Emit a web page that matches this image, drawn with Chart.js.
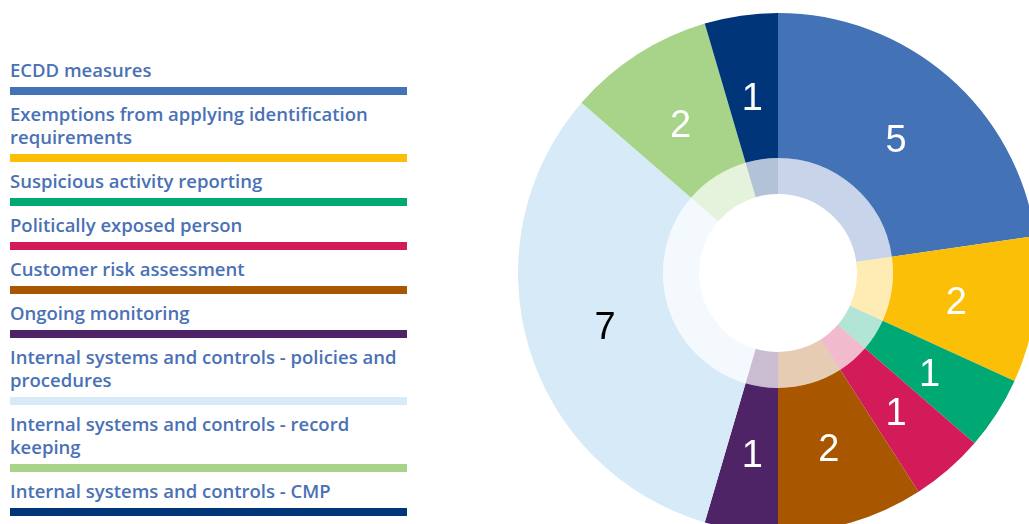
<!DOCTYPE html>
<html>
<head>
<meta charset="utf-8">
<script src="https://cdn.jsdelivr.net/npm/chart.js@4.4.1/dist/chart.umd.min.js"></script>
<style>
  html, body { margin: 0; padding: 0; background: #fff; }
  body { width: 1029px; height: 524px; overflow: hidden; position: relative; font-family: "Open Sans", sans-serif; }
  #legend { position: absolute; left: 10px; top: 57.5px; width: 397px; }
  .item { margin-bottom: 7px; }
  .item .txt { color: #4a71b6; font-size: 18.5px; font-weight: 600; line-height: 23px; white-space: nowrap; }
  .item .bar { margin-top: 6px; height: 8px; }
  #wrap { position: absolute; left: 518px; top: 13px; width: 520px; height: 520px; }
</style>
</head>
<body>
<div id="legend"></div>
<div id="wrap"><canvas id="pie"></canvas></div>
<script>
const categories = [
  'ECDD measures',
  ['Exemptions from applying identification', 'requirements'],
  'Suspicious activity reporting',
  'Politically exposed person',
  'Customer risk assessment',
  'Ongoing monitoring',
  ['Internal systems and controls - policies and', 'procedures'],
  ['Internal systems and controls - record', 'keeping'],
  'Internal systems and controls - CMP'
];
const counts = [5, 2, 1, 1, 2, 1, 7, 2, 1];
const sliceColors = ['#4472b6', '#fbbf07', '#00a874', '#d41b5a', '#a85600', '#4e2466', '#d6eaf8', '#a8d48a', '#00357a'];
const valueColors = ['#fff', '#fff', '#fff', '#fff', '#fff', '#fff', '#000', '#fff', '#fff'];

function el(id) { return document.getElementById(id); }
function fade(hex, a) {
  const n = parseInt(hex.slice(1), 16);
  return 'rgba(' + (n >> 16) + ',' + ((n >> 8) & 255) + ',' + (n & 255) + ',' + a + ')';
}

el('legend').innerHTML = categories.map((c, i) => {
  const t = Array.isArray(c) ? c.join('<br>') : c;
  return `<div class="item"><div class="txt">${t}</div><div class="bar" style="background:${sliceColors[i]}"></div></div>`;
}).join('');

// numbers on the outer ring
const valueLabels = {
  id: 'valueLabels',
  afterDatasetsDraw(chart) {
    const ctx = chart.ctx;
    const meta = chart.getDatasetMeta(0);
    ctx.save();
    ctx.font = '38px "Liberation Sans", Arial, sans-serif';
    ctx.textAlign = 'center';
    ctx.textBaseline = 'middle';
    meta.data.forEach((arc, i) => {
      const p = arc.getProps(['x', 'y', 'startAngle', 'endAngle', 'innerRadius', 'outerRadius'], true);
      const a = (p.startAngle + p.endAngle) / 2;
      const r = p.innerRadius + (p.outerRadius - p.innerRadius) * 0.45;
      ctx.fillStyle = valueColors[i];
      ctx.fillText(String(counts[i]), p.x + Math.cos(a) * r, p.y + Math.sin(a) * r + 5);
    });
    ctx.restore();
  }
};

new Chart(el('pie'), {
  type: 'doughnut',
  data: {
    labels: categories,
    datasets: [
      { data: counts, backgroundColor: sliceColors, borderWidth: 0, weight: 145 },
      { data: counts, backgroundColor: sliceColors.map(c => fade(c, 0.3)), borderWidth: 0, weight: 36 }
    ]
  },
  options: {
    responsive: true, maintainAspectRatio: false, animation: false,
    cutout: '30.4%',
    layout: { padding: 0 },
    plugins: { legend: { display: false }, tooltip: { enabled: false } }
  },
  plugins: [valueLabels]
});
</script>
</body>
</html>
